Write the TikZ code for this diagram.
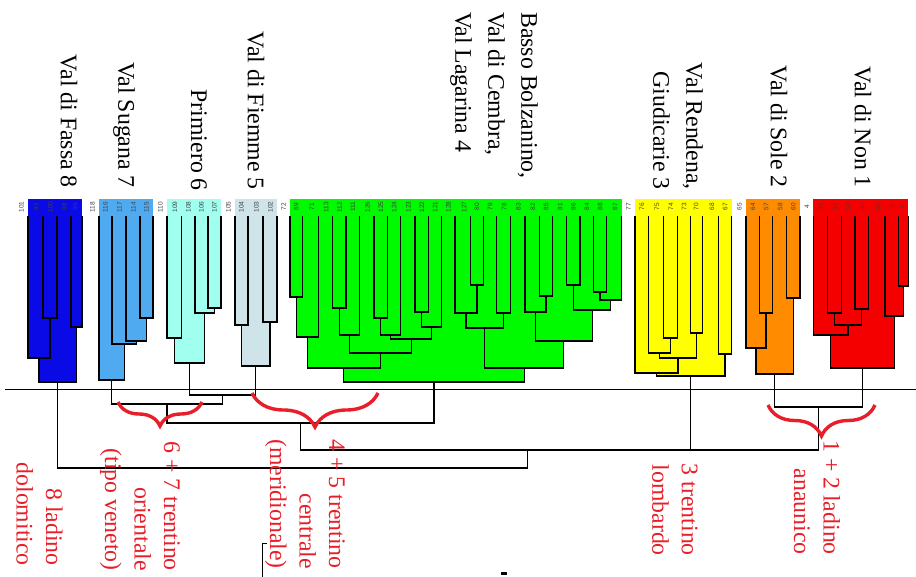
\documentclass[tikz,border=0pt]{standalone}
\usepackage{fontspec}
\setmainfont{Liberation Serif}
\setsansfont{Liberation Sans}
\usetikzlibrary{calc,backgrounds,decorations.pathreplacing}

\definecolor{cfassa}{RGB}{10,10,230}
\definecolor{csugana}{RGB}{80,170,240}
\definecolor{cprimiero}{RGB}{160,255,238}
\definecolor{cfiemme}{RGB}{206,228,232}
\definecolor{cbasso}{RGB}{0,250,0}
\definecolor{crendena}{RGB}{255,255,0}
\definecolor{csole}{RGB}{255,140,0}
\definecolor{cnon}{RGB}{245,0,0}
\definecolor{dialectred}{RGB}{232,30,40}

\tikzset{
  branch/.style={line width=1.2pt, black},
  region/.style={rotate=-90, inner sep=0pt, font=\fontsize{23.8}{33}\selectfont},
  dialect/.style={rotate=-90, inner sep=0pt, text=dialectred, font=\fontsize{23.8}{29.5}\selectfont},
  leafnum/.style={rotate=90, inner sep=0pt, text=black!75, font=\sffamily\fontsize{6.5}{6.5}\selectfont},
  grouping/.style={decorate, decoration={brace, mirror, amplitude=#1}, draw=dialectred, line width=3.4pt},
}

% U-shaped join of two branches at a given height
\newcommand{\junct}[4]{%
  \coordinate (#4 mid) at ($(#1)!.5!(#2)$);
  \coordinate (#4) at (#4 mid |- 0,#3);
  \draw[branch] (#1) -- (#1 |- #4) -- (#2 |- #4) -- (#2);
}
% same, with the coloured area of its cluster behind it
\newcommand{\clade}[5]{%
  \junct{#1}{#2}{#3}{#4}
  \begin{scope}[on background layer]
    \fill[#5] (#1 |- 0,199) rectangle (#2 |- 0,#3);
  \end{scope}
}

\begin{document}
\begin{tikzpicture}[x=1pt,y=-1pt]
    \useasboundingbox (0,0) rectangle (916,577);
    \begin{scope}[on background layer]
        \fill[white] (0,0) rectangle (916,577);
    \end{scope}

    % Leaves and their numbers
    \foreach \n/\x/\t in {fa1/28/101, fa2/43/97, fa3/57/100, fa4/71/98, fa5/82/99,
        su1/99/118, su2/112/116, su3/126/117, su4/140/114, su5/153/115,
        pr1/167/110, pr2/181.5/109, pr3/195/108, pr4/208/106, pr5/221/107,
        fi1/235/105, fi2/248/104, fi3/263/103, fi4/277/102,
        tn1/290/72, tn2/302.7/69, tn3/318.3/71, tn4/332.7/113, tn5/346/112,
        tn6/359.3/111, tn7/374/126, tn8/387.3/125, tn9/400.7/124, tn10/415/123,
        tn11/428.3/122, tn12/441.7/121, tn13/455/128, tn14/470.7/127, tn15/483.3/80,
        tn16/496.7/79, tn17/510.7/78, tn18/525/83, tn19/539.3/82, tn20/552.7/85,
        tn21/566.7/81, tn22/580/86, tn23/593.3/84, tn24/606.7/88, tn25/621.7/87,
        re1/635/77, re2/648.3/76, re3/663.3/75, re4/677.3/74, re5/690.7/73,
        re6/702.7/70, re7/718.3/68, re8/731.7/67,
        so1/746/65, so2/759.3/64, so3/772.7/57, so4/786.7/58, so5/800/60,
        no1/813.3/4, no2/827.3/49, no3/841.7/52, no4/855/53, no5/868.3/55,
        no6/885/56, no7/898.3/3, no8/908.3/1}
    {
        \coordinate (\n) at (\x,216);
        \node[leafnum] (lab \n) at (\x-6.5,207) {\t};
    }

    % Val di Fassa
    \clade{fa2}{fa3}{318}{fa-a}{cfassa}
    \clade{fa1}{fa-a}{358}{fa-b}{cfassa}
    \clade{fa4}{fa5}{327}{fa-c}{cfassa}
    \clade{fa-b}{fa-c}{382}{fa}{cfassa}
    % Val Sugana
    \clade{su4}{su5}{318}{su-a}{csugana}
    \clade{su3}{su-a}{341}{su-b}{csugana}
    \clade{su2}{su-b}{344}{su-c}{csugana}
    \clade{su1}{su-c}{380}{su}{csugana}
    % Primiero
    \clade{pr4}{pr5}{308}{pr-a}{cprimiero}
    \clade{pr3}{pr-a}{313}{pr-b}{cprimiero}
    \clade{pr1}{pr2}{338}{pr-c}{cprimiero}
    \clade{pr-c}{pr-b}{363}{pr}{cprimiero}
    % Val di Fiemme
    \clade{fi1}{fi2}{325}{fi-a}{cfiemme}
    \clade{fi3}{fi4}{322}{fi-b}{cfiemme}
    \clade{fi-a}{fi-b}{366}{fi}{cfiemme}
    % Basso Bolzanino, Val di Cembra, Val Lagarina
    \clade{tn1}{tn2}{297}{tn-a}{cbasso}
    \clade{tn-a}{tn3}{337}{tn-b}{cbasso}
    \clade{tn4}{tn5}{308}{tn-c}{cbasso}
    \clade{tn-c}{tn6}{335}{tn-d}{cbasso}
    \clade{tn7}{tn8}{318}{tn-e}{cbasso}
    \clade{tn-e}{tn9}{335}{tn-f}{cbasso}
    \clade{tn10}{tn11}{312}{tn-g}{cbasso}
    \clade{tn-g}{tn12}{327}{tn-h}{cbasso}
    \clade{tn-f}{tn-h}{339}{tn-i}{cbasso}
    \clade{tn-d}{tn-i}{353}{tn-j}{cbasso}
    \clade{tn-b}{tn-j}{368}{tn-k}{cbasso}
    \clade{tn14}{tn15}{285}{tn-l}{cbasso}
    \clade{tn13}{tn-l}{313}{tn-m}{cbasso}
    \clade{tn16}{tn17}{313}{tn-n}{cbasso}
    \clade{tn-m}{tn-n}{328}{tn-o}{cbasso}
    \clade{tn19}{tn20}{296}{tn-p}{cbasso}
    \clade{tn18}{tn-p}{312}{tn-q}{cbasso}
    \clade{tn21}{tn22}{285}{tn-r}{cbasso}
    \clade{tn23}{tn24}{292}{tn-s}{cbasso}
    \clade{tn-s}{tn25}{300}{tn-t}{cbasso}
    \clade{tn-r}{tn-t}{310}{tn-u}{cbasso}
    \clade{tn-q}{tn-u}{341}{tn-v}{cbasso}
    \clade{tn-o}{tn-v}{368}{tn-w}{cbasso}
    \clade{tn-k}{tn-w}{382}{tn}{cbasso}
    % Val Rendena, Giudicarie
    \clade{re3}{re4}{338}{re-a}{crendena}
    \clade{re5}{re6}{333}{re-b}{crendena}
    \clade{re2}{re-a}{353}{re-c}{crendena}
    \clade{re-c}{re-b}{358}{re-d}{crendena}
    \clade{re1}{re-d}{373}{re-e}{crendena}
    \clade{re7}{re8}{354}{re-f}{crendena}
    \clade{re-e}{re-f}{376}{re}{crendena}
    % Val di Sole
    \clade{so4}{so5}{298}{so-a}{csole}
    \clade{so2}{so3}{313}{so-b}{csole}
    \clade{so1}{so-b}{348}{so-c}{csole}
    \clade{so-c}{so-a}{374}{so}{csole}
    % Val di Non
    \clade{no2}{no3}{313}{no-a}{cnon}
    \clade{no4}{no5}{309}{no-b}{cnon}
    \clade{no-a}{no-b}{325}{no-c}{cnon}
    \clade{no7}{no8}{286}{no-d}{cnon}
    \clade{no6}{no-d}{316}{no-e}{cnon}
    \clade{no1}{no-c}{335}{no-f}{cnon}
    \clade{no-f}{no-e}{368}{no}{cnon}

    % Joins below the clusters
    \junct{pr}{fi}{395}{j65}
    \junct{su}{j65}{404}{j765}
    \junct{j765}{tn}{423}{j4567}
    \junct{so}{no}{407}{j12}
    \junct{re}{j12}{450}{j123}
    \junct{j4567}{j123}{450}{j1to7}
    \junct{fa}{j1to7}{468}{jall}

    % Cut line
    \draw[line width=1pt] (5,389) -- (916,389);

    % Valley names
    \node[region, anchor=east] (fassa) at (69,188) {Val di Fassa 8};
    \node[region, anchor=east] (sugana) at (124,188) {Val Sugana 7};
    \node[region, anchor=east] (primiero) at (199,191) {Primiero 6};
    \node[region, anchor=east] (fiemme) at (256,190) {Val di Fiemme 5};
    \node[region, anchor=west, align=left] (basso) at (494,12)
        {Basso Bolzanino,\\Val di Cembra,\\Val Lagarina 4};
    \node[region, anchor=east, align=right] (rendena) at (678,190)
        {Val Rendena,\\Giudicarie 3};
    \node[region, anchor=east] (sole) at (779,188) {Val di Sole 2};
    \node[region, anchor=east] (non) at (863,188) {Val di Non 1};

    % Braces
    \draw[grouping=24] (118,402) -- (202,402);
    \draw[grouping=34] (252,393) -- (378,393);
    \draw[grouping=31] (768,405) -- (875,405);

    % Dialect groups
    \node[dialect, anchor=east, align=right] (ladino8) at (39.5,566)
        {8 ladino\\dolomitico};
    \node[dialect, anchor=east, align=right] (trentino67) at (140,571)
        {6 + 7 trentino\\orientale\\(tipo veneto)};
    \node[dialect, anchor=east, align=right] (trentino45) at (305,569)
        {4 + 5 trentino\\centrale\\(meridionale)};
    \node[dialect, anchor=east, align=right] (trentino3) at (675,556)
        {3 trentino\\lombardo};
    \node[dialect, anchor=east, align=right] (ladino12) at (817,555)
        {1 + 2 ladino\\anaunico};

    % Edge of the next figure
    \draw[line width=1pt] (262,577) -- (262,543) -- (267,543);
    \fill (501,572) rectangle (507,575);
\end{tikzpicture}
\end{document}
